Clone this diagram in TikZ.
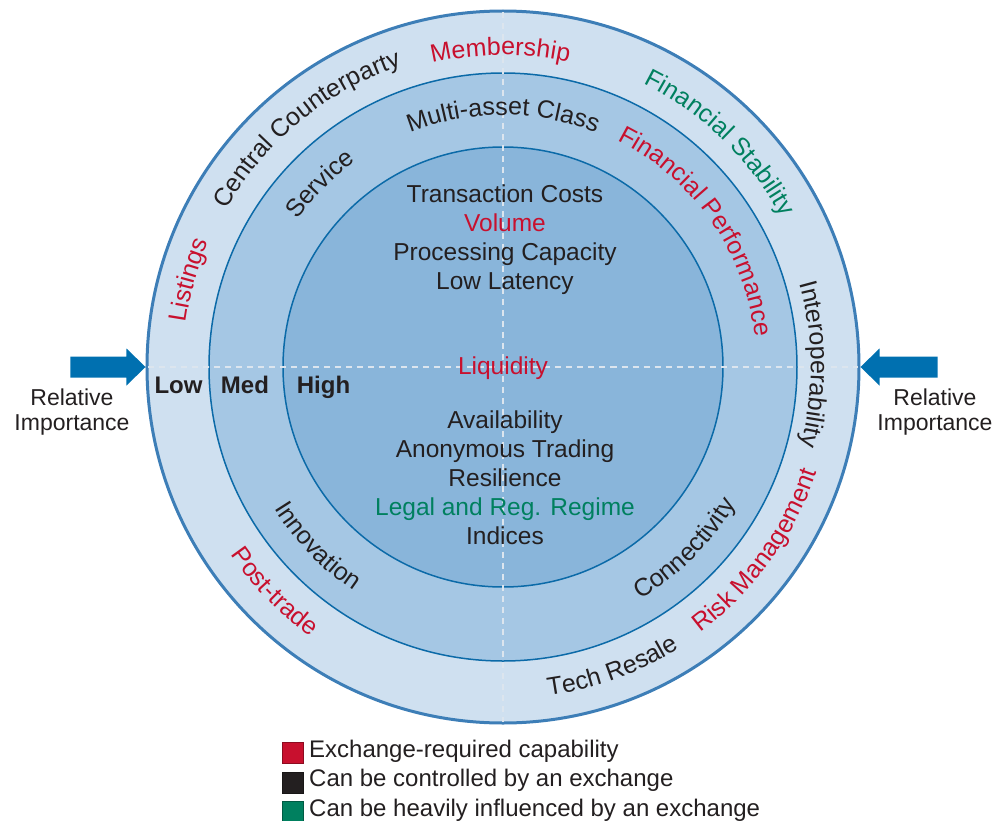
\documentclass[tikz,border=0pt]{standalone}
\usepackage{fontspec}
\setmainfont{Liberation Sans}
\usetikzlibrary{decorations.text}

\definecolor{ringOuter}{HTML}{CFE0F0}
\definecolor{ringMid}{HTML}{A5C7E4}
\definecolor{ringCore}{HTML}{89B5DA}
\definecolor{rimBlue}{HTML}{3D7EB7}
\definecolor{lineBlue}{HTML}{0B6AA8}
\definecolor{arrowBlue}{HTML}{0070B0}
\definecolor{req}{HTML}{C8102E}
\definecolor{ctl}{HTML}{231F20}
\definecolor{infl}{HTML}{00805F}
\definecolor{grid}{HTML}{DCE5EE}

\newcommand\ringfont{\fontsize{25}{29}\selectfont}
\newcommand\bodyfont{\fontsize{24.5}{29}\selectfont}
% clockwise arc, letters stand outwards
\newcommand\toplabel[4]{%
  \path[decorate, decoration={text along path, text align=center,
      text={|\ringfont\color{#1}|#4}}]
    (#3+40:#2pt) arc[start angle=#3+40, end angle=#3-40, radius=#2pt];}
% counterclockwise arc, letters stand inwards
\newcommand\botlabel[4]{%
  \path[decorate, decoration={text along path, text align=center,
      text={|\ringfont\color{#1}|#4}}]
    (#3-40:#2pt) arc[start angle=#3-40, end angle=#3+40, radius=#2pt];}

\begin{document}
\begin{tikzpicture}[x=1pt, y=1pt,
	ring/.style={circle, inner sep=0pt},
	body/.style={font=\bodyfont, inner sep=0pt, anchor=base},
	level/.style={font=\fontsize{24}{29}\selectfont\bfseries, text=ctl, inner sep=0pt, anchor=base},
	side/.style={font=\fontsize{23}{25}\selectfont, text=ctl, inner sep=0pt, anchor=base},
	keybox/.style={minimum size=21pt, inner sep=0pt, line width=0.6pt},
	legtext/.style={font=\fontsize{24}{29}\selectfont, text=ctl, inner sep=0pt, anchor=base west},
	gridline/.style={grid, line width=2pt, dash pattern=on 6pt off 5pt, shorten <=3pt, shorten >=3pt},
	pointer/.style={fill=arrowBlue}]
	\useasboundingbox (-503,-453) rectangle (496,367);
	% the three rings
	\node[ring, minimum size=712pt, fill=ringOuter, draw=rimBlue, line width=3pt] (outer) at (0,0) {};
	\node[ring, minimum size=588pt, fill=ringMid, draw=lineBlue, line width=1.5pt] (mid) at (0,0) {};
	\node[ring, minimum size=440pt, fill=ringCore, draw=lineBlue, line width=1.5pt] (core) at (0,0) {};
	\draw[gridline] (outer.west) -- (outer.east);
	\draw[gridline] (outer.north) -- (outer.south);
	% arrows
	\fill[pointer] (outer.west) -- ++(-19,18.5) -- ++(0,-8) -- ++(-56,0) -- ++(0,-21) -- ++(56,0) -- ++(0,-8) -- cycle;
	\fill[pointer] (outer.east) -- ++(19,18.5) -- ++(0,-8) -- ++(58,0) -- ++(0,-21) -- ++(-58,0) -- ++(0,-8) -- cycle;
	\node[side] (relL) at (-431,-38) {Relative};
	\node[side] (impL) at (-431,-63) {Importance};
	\node[side] (relR) at (432,-38) {Relative};
	\node[side] (impR) at (432,-63) {Importance};
	% ring labels
	\toplabel{req}{312}{90.5}{Membership}
	\toplabel{ctl}{318}{129.5}{Central Counterparty}
	\toplabel{req}{320}{164.5}{Listings}
	\toplabel{infl}{316}{46}{Financial Stability}
	\toplabel{ctl}{308}{0.5}{Interoperability}
	\toplabel{ctl}{252}{90}{Multi-asset Class}
	\toplabel{ctl}{253}{135}{Service}
	\toplabel{req}{254}{35}{Financial Performance}
	\botlabel{ctl}{332}{-70}{Tech Resale}
	\botlabel{req}{331}{-36}{Risk Management}
	\botlabel{req}{331}{224.5}{Post-trade}
	\botlabel{ctl}{269}{224}{Innovation}
	\botlabel{ctl}{270}{-45}{Connectivity}
	% core
	\foreach \txt/\col [count=\i] in {Transaction Costs/ctl, Volume/req, Processing Capacity/ctl, Low Latency/ctl}
	{\node[body, text=\col] (upper\i) at (2,{165-29*(\i-1)}) {\txt};}
	\node[body, text=req] (liquidity) at (0,-7) {Liquidity};
	\foreach \txt/\col [count=\i] in {Availability/ctl, Anonymous Trading/ctl, Resilience/ctl, Legal and Reg. Regime/infl, Indices/ctl}
	{\node[body, text=\col] (lower\i) at (2,{-61-29*(\i-1)}) {\txt};}
	\foreach \txt/\X in {Low/-324.5, Med/-258, High/-179.5}
	{\node[level] (lvl\txt) at (\X,-26) {\txt};}
	% legend
	\foreach \col/\txt [count=\i] in {req/Exchange-required capability, ctl/Can be controlled by an exchange, infl/Can be heavily influenced by an exchange}
	{\node[keybox, fill=\col, draw=\col!70!black] (key\i) at (-210.5,{-386-29.5*(\i-1)}) {};
	 \node[legtext] (keytext\i) at (-194,{-390-29.5*(\i-1)}) {\txt};}
\end{tikzpicture}
\end{document}
